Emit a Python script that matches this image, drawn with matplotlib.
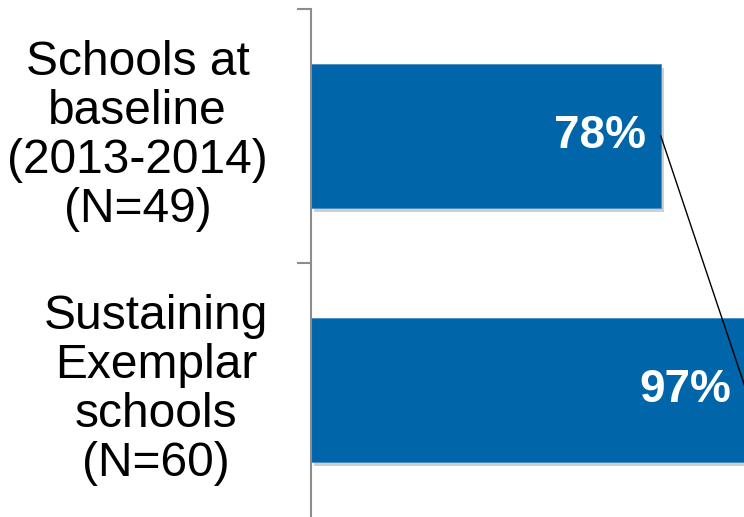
import numpy as np
import matplotlib
matplotlib.use("Agg")
import matplotlib.pyplot as plt
import matplotlib.transforms as mtransforms
import matplotlib.patheffects as pe

categories = ["Schools at\nbaseline\n(2013-2014)\n(N=49)",
              "Sustaining\nExemplar\nschools\n(N=60)"]
values = [78, 97]
value_labels = ["78%", "97%"]

BAR_COLOR = "#0065A9"
AXIS_GRAY = "#8C8C8C"

plt.rcParams['font.family'] = ['Liberation Sans', 'DejaVu Sans']

def main():
    fig = plt.figure(figsize=(7.44, 5.17), dpi=100)
    # axes runs a little past the bottom edge, like the cropped original
    ext = 8
    ax = fig.add_axes([311/744, -ext/517, 1 - 311/744, (508 + ext)/517])

    ypos = np.arange(len(values))
    ax.barh(ypos, values, height=0.567, color=BAR_COLOR,
            edgecolor="#4A8CC4", linewidth=0.6,
            path_effects=[pe.SimplePatchShadow(offset=(2, -3), shadow_rgbFace="#777777", alpha=0.35),
                          pe.Normal()])

    ax.set_xlim(0, 433/4.485)
    ax.set_ylim(-0.5 + (508 + ext)/254, -0.5)

    # connector between bar ends
    ax.plot(values, ypos, color="black", lw=1.0, zorder=3)

    for y, v, lab in zip(ypos, values, value_labels):
        ax.annotate(lab, (v, y), xytext=(-11, 0), textcoords="offset points",
                    ha="right", va="center", color="white",
                    fontsize=33, fontweight="bold", zorder=4,
                    annotation_clip=False)

    # category labels: right aligned block, lines centred
    trans = mtransforms.blended_transform_factory(ax.transAxes, ax.transData)
    for y, cat in zip(ypos, categories):
        ax.text(-43/433, y, cat, transform=trans, ha="right", va="center",
                multialignment="center", fontsize=34.5, linespacing=1.12,
                color="black")

    for s in ["top", "right", "bottom"]:
        ax.spines[s].set_visible(False)
    ax.spines["left"].set_color(AXIS_GRAY)
    ax.spines["left"].set_linewidth(1.5)

    ax.set_xticks([])
    # category boundary ticks (the bottom one falls off the cropped edge)
    ax.set_yticks(np.arange(-0.5, len(values) - 1, 1.0))
    ax.set_yticklabels([])
    ax.tick_params(axis="y", length=10, width=1.5, color=AXIS_GRAY)

    fig.savefig("out.png", dpi=100)


if __name__ == "__main__":
    main()
